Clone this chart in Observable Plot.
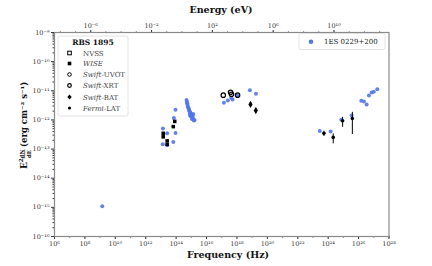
<!DOCTYPE html>
<html><head><meta charset="utf-8">
<script src="https://cdn.jsdelivr.net/npm/d3@7"></script>
<script src="https://cdn.jsdelivr.net/npm/@observablehq/plot@0.6"></script>
<style>body{margin:0;background:#fff} #c{position:relative;width:432px;height:266px}</style>
</head><body><div id="c"></div><script>
// 1ES 0229+200 (blue)
const blueNu = [1.38e9,
  9.1e13, 7.1e13, 1.35e13, 2.57e13, 9.1e13, 1.32e13, 2.57e13, 6.5e13,
  4.83e14, 5.1e14, 5.37e14, 5.6e14, 5.89e14, 6.3e14, 6.86e14, 7.2e14, 7.62e14, 8.2e14, 8.85e14, 9.5e14, 1.03e15, 1.15e15, 1.26e15, 1.46e15, 1.08e15, 7.96e14, 1.32e15, 1.63e15, 9.0e14, 1.2e15,
  1.38e17, 2.51e17, 4.17e17, 5.13e17, 1.05e18, 7.08e18, 1.78e19,
  2.82e23, 1.45e24, 7.24e24, 3.47e25,
  1.51e26, 2.24e26, 3.39e26, 4.79e26, 7.24e26, 1.0e27, 1.70e27];
const blueF = [1.1e-15,
  2.24e-12, 1.17e-12, 5.1e-13, 3.47e-13, 3.55e-13, 1.45e-13, 1.35e-13, 1.74e-13,
  4.86e-12, 4.2e-12, 3.72e-12, 3.3e-12, 2.86e-12, 2.6e-12, 2.39e-12, 2.15e-12, 1.98e-12, 1.8e-12, 1.69e-12, 1.55e-12, 1.41e-12, 1.3e-12, 1.17e-12, 9.5e-13, 1.08e-12, 1.52e-12, 1.61e-12, 1.0e-12, 1.35e-12, 1.45e-12,
  3.89e-12, 4.68e-12, 5.75e-12, 5.01e-12, 6.92e-12, 1.05e-11, 7.94e-12,
  4.17e-13, 3.98e-13, 1.02e-12, 1.41e-12,
  4.57e-12, 4.27e-12, 3.39e-12, 6.92e-12, 8.71e-12, 9.33e-12, 1.12e-11];
// RBS 1895 — WISE
const wiseNu = [8.1e13, 6.5e13, 1.41e13, 1.41e13, 2.57e13, 2.57e13];
const wiseF  = [8.9e-13, 5.9e-13, 3.47e-13, 2.63e-13, 1.91e-13, 1.45e-13];
// Swift-UVOT / XRT
const swiftNu = [1.26e17, 3.8e17, 4.37e17, 1.1e18];
const swiftF  = [7.08e-12, 8.9e-12, 7.6e-12, 7.08e-12];
// Swift-BAT
const batNu = [7.76e18, 1.74e19];
const batF  = [3.39e-12, 2.09e-12];
const batLo = [2.9e-12, 1.8e-12];
const batHi = [4.0e-12, 2.45e-12];
// Fermi-LAT
const latNu = [5.25e23, 2.14e24, 8.9e24, 3.89e25];
const latF  = [3.47e-13, 2.51e-13, 9.3e-13, 1.12e-12];
const latLo = [2.7e-13, 1.51e-13, 5.6e-13, 3.16e-13];
const latHi = [4.1e-13, 3.31e-13, 1.23e-12, 1.82e-12];
// tick labels
const xMajorExp = [6,8,10,12,14,16,18,20,22,24,26,28];
const yMajorExp = [-16,-15,-14,-13,-12,-11,-10,-9];
const eTickExp = [-6,-2,2,6,10];
const H = 4.135667e-15; // eV s

const sup = s => String(s).replace(/[-0-9]/g, c => ({"-":"⁻","0":"⁰","1":"¹","2":"²","3":"³","4":"⁴","5":"⁵","6":"⁶","7":"⁷","8":"⁸","9":"⁹"})[c]);
const blue = blueNu.map((nu,i)=>({nu, f: blueF[i]}));
const wise = wiseNu.map((nu,i)=>({nu, f: wiseF[i]}));
const swift = swiftNu.map((nu,i)=>({nu, f: swiftF[i]}));
const bat = batNu.map((nu,i)=>({nu, f: batF[i], lo: batLo[i], hi: batHi[i]}));
const lat = latNu.map((nu,i)=>({nu, f: latF[i], lo: latLo[i], hi: latHi[i]}));

const xMajor = xMajorExp.map(e => Math.pow(10, e));
const xMinor = d3.range(6, 29).map(e => Math.pow(10, e));
const yMajor = yMajorExp.map(e => Math.pow(10, e));
const yMinor = [];
for (let e = -16; e < -9; e++) for (let m = 2; m <= 9; m++) yMinor.push(m * Math.pow(10, e));
const eTicks = eTickExp.map(e => Math.pow(10, e) / H);
const eMinor = d3.range(-8, 14).map(e => Math.pow(10, e) / H).filter(v => v >= 1e6 && v <= 1e28);

const BLUE = "#5276ea";
const chart = Plot.plot({
  width: 432, height: 266,
  marginLeft: 54, marginRight: 43.5, marginTop: 32, marginBottom: 30,
  x: {type: "log", domain: [1e6, 1e28]},
  y: {type: "log", domain: [1e-16, 1e-9]},
  style: {fontFamily: "'DejaVu Serif', serif", fontSize: "6.5px", background: "white", color: "#333"},
  marks: [
    Plot.axisX(xMinor, {anchor: "bottom", tickSize: 1.5, tickFormat: () => "", label: null}),
    Plot.axisX(xMajor, {anchor: "bottom", tickSize: 3, tickPadding: 2, tickFormat: d => "10" + sup(Math.round(Math.log10(d))), label: null}),
    Plot.axisX(eMinor, {anchor: "top", tickSize: 1.5, tickFormat: () => "", label: null}),
    Plot.axisX(eTicks, {anchor: "top", tickSize: 3, tickPadding: 2, tickFormat: d => "10" + sup(Math.round(Math.log10(d * H))), label: null}),
    Plot.axisY(yMinor, {anchor: "left", tickSize: 1.5, tickFormat: () => "", label: null}),
    Plot.axisY(yMajor, {anchor: "left", tickSize: 3, tickPadding: 2, tickFormat: d => "10" + sup(Math.round(Math.log10(d))), label: null}),
    Plot.frame({stroke: "#8a8a8a", strokeWidth: 1.2}),
    Plot.dot(blue, {x: "nu", y: "f", r: 2, fill: BLUE, fillOpacity: 0.9}),
    Plot.dot(wise, {x: "nu", y: "f", r: 2, symbol: "square", fill: "black"}),
    Plot.dot(swift, {x: "nu", y: "f", r: 2.2, stroke: "black", strokeWidth: 1.2, fill: "none"}),
    Plot.ruleX(bat, {x: "nu", y1: "lo", y2: "hi", stroke: "black", strokeWidth: 1.2}),
    Plot.dot(bat, {x: "nu", y: "f", r: 2.2, symbol: "diamond", fill: "black"}),
    Plot.ruleX(lat, {x: "nu", y1: "lo", y2: "hi", stroke: "black", strokeWidth: 1}),
    Plot.dot(lat, {x: "nu", y: "f", r: 1.8, fill: "black"})
  ]
});
document.getElementById("c").appendChild(chart);

const svg = d3.select(chart);
const serif = "'DejaVu Serif', serif";
svg.append("text").attr("x", 221).attr("y", 13).attr("text-anchor", "middle")
  .attr("font-family", serif).attr("font-weight", "bold").attr("font-size", 9.5).attr("fill", "#111").text("Energy (eV)");
svg.append("text").attr("x", 228).attr("y", 258).attr("text-anchor", "middle")
  .attr("font-family", serif).attr("font-weight", "bold").attr("font-size", 9.5).attr("fill", "#111").text("Frequency (Hz)");

// y label
const yl = svg.append("g").attr("transform", "translate(27,126) rotate(-90)")
  .attr("font-family", serif).attr("font-weight", "bold").attr("fill", "#111").attr("text-anchor", "start");
yl.append("text").attr("x", -43).attr("y", 0).attr("font-size", 9).text("E");
yl.append("text").attr("x", -36.3).attr("y", -4).attr("font-size", 5.5).text("2");
yl.append("text").attr("x", -28).attr("y", -3.3).attr("text-anchor", "middle").attr("font-size", 5.5).text("dN");
yl.append("line").attr("x1", -32.5).attr("x2", -23.5).attr("y1", -2.3).attr("y2", -2.3).attr("stroke", "#111").attr("stroke-width", 0.6);
yl.append("text").attr("x", -28).attr("y", 3.6).attr("text-anchor", "middle").attr("font-size", 5.5).text("dE");
yl.append("text").attr("x", -21).attr("y", 0).attr("font-size", 8.5).text("(erg cm⁻² s⁻¹)");

// legend left
const lg = svg.append("g").attr("font-family", serif).attr("text-anchor", "start");
lg.append("rect").attr("x", 58).attr("y", 36).attr("width", 70).attr("height", 80).attr("rx", 2)
  .attr("fill", "white").attr("fill-opacity", 0.85).attr("stroke", "#ddd").attr("stroke-width", 0.8);
lg.append("text").attr("x", 93).attr("y", 45).attr("text-anchor", "middle").attr("font-weight", "bold").attr("font-size", 7.5).attr("fill", "#111").text("RBS 1895");
const rowsY = [53, 63.5, 74.5, 85.5, 97, 108];
const names = [["", "NVSS", ""], ["", "WISE", "it"], ["Swift", "-UVOT", "s"], ["Swift", "-XRT", "s"], ["Swift", "-BAT", "s"], ["Fermi", "-LAT", "s"]];
rowsY.forEach((y, i) => {
  const t = lg.append("text").attr("x", 83).attr("y", y + 2.5).attr("font-size", 7).attr("fill", "#444");
  const [a, b, k] = names[i];
  if (k === "it") t.append("tspan").attr("font-style", "italic").text(b);
  else if (k === "s") { t.append("tspan").attr("font-style", "italic").text(a); t.append("tspan").text(b); }
  else t.text(b);
});
const mx = 69.5;
lg.append("rect").attr("x", mx - 1.8).attr("y", rowsY[0] - 1.8).attr("width", 3.6).attr("height", 3.6).attr("fill", "none").attr("stroke", "black").attr("stroke-width", 1);
lg.append("rect").attr("x", mx - 1.8).attr("y", rowsY[1] - 1.8).attr("width", 3.6).attr("height", 3.6).attr("fill", "black");
lg.append("circle").attr("cx", mx).attr("cy", rowsY[2]).attr("r", 1.8).attr("fill", "none").attr("stroke", "black").attr("stroke-width", 1);
lg.append("circle").attr("cx", mx).attr("cy", rowsY[3]).attr("r", 1.8).attr("fill", "none").attr("stroke", "black").attr("stroke-width", 1.2);
lg.append("path").attr("d", `M${mx},${rowsY[4]-2.4}L${mx+2.2},${rowsY[4]}L${mx},${rowsY[4]+2.4}L${mx-2.2},${rowsY[4]}Z`).attr("fill", "black");
lg.append("circle").attr("cx", mx).attr("cy", rowsY[5]).attr("r", 1.6).attr("fill", "black");

// legend right
const lr = svg.append("g").attr("font-family", serif).attr("text-anchor", "start");
lr.append("rect").attr("x", 299).attr("y", 33.5).attr("width", 86).attr("height", 16).attr("rx", 2)
  .attr("fill", "white").attr("stroke", "#ddd").attr("stroke-width", 0.8);
lr.append("circle").attr("cx", 311).attr("cy", 41.7).attr("r", 2.3).attr("fill", BLUE);
lr.append("text").attr("x", 324).attr("y", 44.2).attr("font-size", 7).attr("fill", "#222").text("1ES 0229+200");
</script></body></html>
